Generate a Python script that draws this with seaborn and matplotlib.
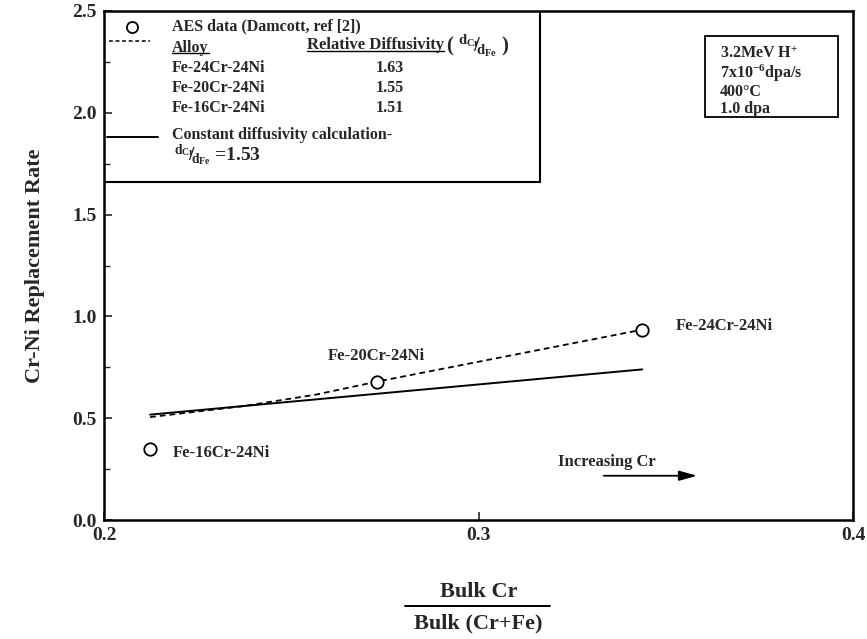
import matplotlib
matplotlib.use("Agg")
import matplotlib.pyplot as plt
from matplotlib.patches import Rectangle
from matplotlib.lines import Line2D
import seaborn as sns
import pandas as pd

# ---- data ----
alloys = ["Fe-16Cr-24Ni", "Fe-20Cr-24Ni", "Fe-24Cr-24Ni"]
aes_x = [0.2123, 0.2729, 0.3437]
aes_y = [0.35, 0.68, 0.935]

var_x = [0.2123, 0.2373, 0.2565, 0.2729, 0.3437]
var_y = [0.506, 0.56, 0.616, 0.68, 0.935]

const_x = [0.2123, 0.3437]
const_y = [0.518, 0.74]

legend_alloys = ["Fe-24Cr-24Ni", "Fe-20Cr-24Ni", "Fe-16Cr-24Ni"]
rel_diff = ["1.63", "1.55", "1.51"]

x_ticks = [0.2, 0.3, 0.4]
y_ticks = [0.0, 0.5, 1.0, 1.5, 2.0, 2.5]

# ---- style ----
sns.set_theme(style="ticks")
plt.rcParams["font.family"] = ["Liberation Serif", "DejaVu Serif"]
plt.rcParams["font.weight"] = "bold"
plt.rcParams["mathtext.fontset"] = "custom"
plt.rcParams["mathtext.rm"] = "Liberation Serif:bold"
plt.rcParams["mathtext.it"] = "Liberation Serif:bold"
plt.rcParams["mathtext.bf"] = "Liberation Serif:bold"

fig = plt.figure(figsize=(8.67, 6.39), dpi=100)
ax = fig.add_axes([0.12, 0.186, 0.864, 0.797])

df_aes = pd.DataFrame({"x": aes_x, "y": aes_y, "alloy": alloys})
df_var = pd.DataFrame({"x": var_x, "y": var_y})
df_const = pd.DataFrame({"x": const_x, "y": const_y})

sns.lineplot(data=df_const, x="x", y="y", ax=ax, color="black", lw=1.4,
             sort=False, estimator=None)
sns.lineplot(data=df_var, x="x", y="y", ax=ax, color="black", lw=1.3,
             sort=False, estimator=None, dashes=False)
ax.lines[-1].set_linestyle((0, (3.2, 2.2)))
sns.scatterplot(data=df_aes, x="x", y="y", ax=ax, s=80, marker="o",
                facecolor="white", edgecolor="black", linewidth=1.3, zorder=5)

ax.set_xlim(0.2, 0.4)
ax.set_ylim(0.0, 2.5)
ax.set_xticks(x_ticks)
ax.set_xticklabels([f"{v:.1f}" for v in x_ticks])
ax.set_yticks(y_ticks)
ax.set_yticklabels([f"{v:.1f}" for v in y_ticks])
ax.set_yticks([0.25, 0.75, 1.25, 1.75, 2.25], minor=True)
ax.tick_params(axis="both", which="major", direction="in", length=6, width=1.2,
               labelsize=14, pad=5, right=False, top=False)
ax.tick_params(axis="y", which="minor", direction="in", length=4, width=1.0)
for s in ax.spines.values():
    s.set_linewidth(1.8)
    s.set_color("black")
    s.set_visible(True)
ax.set_xlabel("")
ax.set_ylabel("Cr-Ni Replacement Rate", fontsize=16, fontweight="bold", labelpad=20)

# data labels
lab_fs = 12
ax.text(0.2184, 0.33, "Fe-16Cr-24Ni", fontsize=lab_fs, va="center", ha="left")
ax.text(0.2598, 0.806, "Fe-20Cr-24Ni", fontsize=lab_fs, va="center", ha="left")
ax.text(0.3527, 0.955, "Fe-24Cr-24Ni", fontsize=lab_fs, va="center", ha="left")
ax.text(0.3212, 0.285, "Increasing Cr", fontsize=lab_fs, va="center", ha="left")
ax.annotate("", xy=(0.3591, 0.218), xytext=(0.3327, 0.218),
            arrowprops=dict(arrowstyle="-|>,head_length=0.9,head_width=0.25",
                            color="black", lw=1.3))

# legend box (axes coordinates)
T = ax.transAxes
fs = 11.5
ax.add_patch(Rectangle((0.0, 0.664), 0.582, 0.336, transform=T, fill=False,
                       lw=1.5, ec="black", zorder=6))
ax.plot([0.037], [0.969], transform=T, marker="o", ms=8, mfc="white",
        mec="black", mew=1.3, ls="none", clip_on=False)
ax.text(0.091, 0.969, "AES data (Damcott, ref [2])", transform=T, fontsize=fs,
        va="center")
ax.add_line(Line2D([0.006, 0.062], [0.941, 0.941], transform=T, color="black",
                   lw=1.1, ls=(0, (2.5, 1.8))))
t_alloy = ax.text(0.091, 0.928, "Alloy", transform=T, fontsize=fs, va="center")
t_rel = ax.text(0.271, 0.932, "Relative Diffusivity", transform=T, fontsize=12,
                va="center")
fig.canvas.draw()
rend = fig.canvas.get_renderer()
inv = T.inverted()
bb_rel = t_rel.get_window_extent(renderer=rend)
x_after = inv.transform([[bb_rel.x1, bb_rel.y0]])[0][0]
ax.text(x_after + 0.002, 0.932, r"( $^{d_{Cr}}\!\!/\!_{d_{Fe}}$ )", transform=T,
        fontsize=15, va="center")
rows_y = [0.888, 0.849, 0.810]
for name, val, yy in zip(legend_alloys, rel_diff, rows_y):
    ax.text(0.091, yy, name, transform=T, fontsize=fs, va="center")
    ax.text(0.362, yy, val, transform=T, fontsize=fs, va="center")
ax.add_line(Line2D([0.004, 0.072], [0.752, 0.752], transform=T, color="black",
                   lw=1.4))
ax.text(0.091, 0.757, "Constant diffusivity calculation-", transform=T,
        fontsize=fs, va="center")
ax.text(0.093, 0.716, r"$^{d_{Cr}}\!\!/\!_{d_{Fe}}$ =1.53", transform=T,
        fontsize=14, va="center")

# underlines for column headers
for t in (t_alloy, t_rel):
    bb = t.get_window_extent(renderer=rend)
    (x0, y0), (x1, _) = inv.transform([[bb.x0, bb.y0], [bb.x1, bb.y1]])
    ax.add_line(Line2D([x0, x1], [y0 + 0.004, y0 + 0.004], transform=T,
                       color="black", lw=1.0))

# condition box
ax.add_patch(Rectangle((0.802, 0.792), 0.178, 0.159, transform=T, fill=False,
                       lw=1.3, ec="black"))
cond = [r"3.2MeV H$^{+}$", r"7x10$^{-6}$dpa/s", "400°C", "1.0 dpa"]
for txt, yy in zip(cond, [0.915, 0.878, 0.841, 0.808]):
    ax.text(0.822, yy, txt, transform=T, fontsize=fs, va="center")

# fraction x label
fig.text(0.552, 0.074, "Bulk Cr", fontsize=16, ha="center", va="center")
fig.add_artist(Line2D([0.467, 0.634], [0.052, 0.052], transform=fig.transFigure,
                      color="black", lw=1.4))
fig.text(0.552, 0.024, "Bulk (Cr+Fe)", fontsize=16, ha="center", va="center")

fig.savefig("out.png", dpi=100)
